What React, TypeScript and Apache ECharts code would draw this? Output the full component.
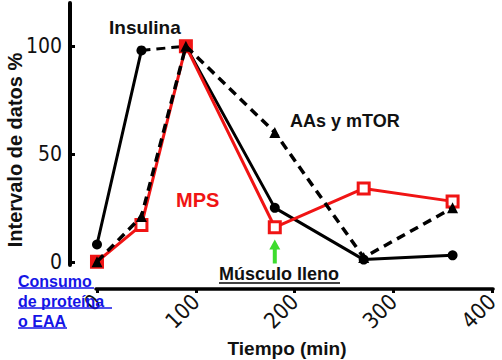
import React, { useEffect, useRef } from "react";
import * as echarts from "echarts";

const tiempo = [0, 45, 90, 180, 270, 360];
const insulina = [8, 98, 100, 25, 1, 3];
const aasMtor = [0, 21, 100, 60, 2, 25];
const mps = [0, 17, 100, 16, 34, 28];
const xTicks = [0, 100, 200, 300, 400];
const yTicks = [0, 50, 100];
const flechaTiempo = 180;
const flechaValor = 4.8;

const RED = "#f01414";
const BLUE = "#1414e6";
const BOLD = '"Liberation Sans", Arial, sans-serif';
const NARROW = '"Liberation Sans Narrow", "Arial Narrow", "DejaVu Sans Condensed", sans-serif';

function txt(text: string, x: number, y: number, size: number, fill: string, extra: any = {}) {
  return {
    type: "text",
    x,
    y,
    z: 100,
    ...extra,
    style: {
      text,
      fill,
      fontSize: size,
      fontWeight: "bold",
      fontFamily: BOLD,
      align: extra.align || "left",
      verticalAlign: "middle",
    },
  };
}

function uline(x1: number, x2: number, y: number, stroke: string, w = 2) {
  return {
    type: "line",
    z: 100,
    shape: { x1, y1: y, x2, y2: y },
    style: { stroke, lineWidth: w },
  };
}

export default function App() {
  const ref = useRef<HTMLDivElement>(null);
  useEffect(() => {
    if (!ref.current) return;
    const chart = echarts.init(ref.current, null, { renderer: "svg" });

    const insSolid: any[] = [];
    tiempo.forEach((t, i) => {
      insSolid.push([t, insulina[i]]);
      if (i === 1) insSolid.push([t, "-"]);
    });
    const insDash = [
      [tiempo[1], insulina[1]],
      [tiempo[2], insulina[2]],
    ];

    const option: any = {
      animation: false,
      backgroundColor: "#ffffff",
      grid: { left: 96, right: 4, top: 3, bottom: 95 },
      xAxis: {
        type: "value",
        min: -1,
        max: 401,
        offset: 24,
        splitLine: { show: false },
        axisLine: { show: true, onZero: false, lineStyle: { color: "#000", width: 3.5 } },
        axisTick: {
          show: true,
          inside: false,
          length: 4,
          lineStyle: { color: "#000", width: 3 },
          customValues: xTicks,
        },
        axisLabel: {
          rotate: 45,
          margin: 9,
          color: "#111",
          fontSize: 22,
          fontFamily: NARROW,
          customValues: xTicks,
        },
      },
      yAxis: {
        type: "value",
        min: -1.5,
        max: 120,
        offset: 26,
        splitLine: { show: false },
        axisLine: { show: true, onZero: false, lineStyle: { color: "#000", width: 4 } },
        axisTick: {
          show: true,
          inside: true,
          length: 5,
          lineStyle: { color: "#000", width: 3 },
          customValues: yTicks,
        },
        axisLabel: {
          margin: 8,
          color: "#111",
          fontSize: 21,
          fontFamily: NARROW,
          customValues: yTicks,
        },
      },
      series: [
        {
          name: "Insulina",
          type: "line",
          data: insSolid,
          connectNulls: false,
          symbol: "circle",
          symbolSize: 10,
          itemStyle: { color: "#000" },
          lineStyle: { color: "#000", width: 3 },
          z: 2,
        },
        {
          name: "Insulina (tramo)",
          type: "line",
          data: insDash,
          symbol: "none",
          lineStyle: { color: "#000", width: 3, type: [9, 6] },
          z: 2,
        },
        {
          name: "MPS",
          type: "line",
          data: tiempo.map((t, i) => ({
            value: [t, mps[i]],
            itemStyle:
              i === 0 || i === 2
                ? { color: RED, borderColor: RED, borderWidth: 3 }
                : { color: "#fff", borderColor: RED, borderWidth: 3 },
          })),
          symbol: "rect",
          symbolSize: 11,
          lineStyle: { color: RED, width: 3 },
          z: 3,
          markPoint: {
            symbol: "path://M5.5,0 L11,10 L7.5,10 L7.5,24 L3.5,24 L3.5,10 L0,10 Z",
            symbolSize: [11, 24],
            silent: true,
            label: { show: false },
            itemStyle: { color: "#3ddc2e" },
            data: [{ coord: [flechaTiempo, flechaValor] }],
          },
        },
        {
          name: "AAs y mTOR",
          type: "line",
          data: tiempo.map((t, i) => [t, aasMtor[i]]),
          symbol: "triangle",
          symbolSize: 11,
          itemStyle: { color: "#000" },
          lineStyle: { color: "#000", width: 3.5, type: [9, 6] },
          z: 4,
        },
      ],
      graphic: [
        txt("Insulina", 109, 27, 19, "#111"),
        txt("AAs y mTOR", 290, 121, 18, "#111"),
        txt("MPS", 176, 200, 20, RED),
        txt("Músculo lleno", 219, 274, 18, "#111"),
        uline(219, 340, 283, "#444", 2),
        txt("Consumo", 18, 281.5, 16, BLUE),
        uline(18, 94, 288, BLUE, 1.5),
        txt("de proteína", 18, 301, 16, BLUE),
        uline(18, 112, 308, BLUE, 1.5),
        txt("o EAA", 18, 321, 16, BLUE),
        uline(18, 67, 328, BLUE, 1.5),
        txt("Intervalo de datos %", 15, 150, 20, "#111", { rotation: Math.PI / 2, align: "center" }),
        txt("Tiempo (min)", 287, 348, 19, "#111", { align: "center" }),
      ],
    };
    chart.setOption(option);
    return () => chart.dispose();
  }, []);
  return (
    <div
      ref={ref}
      style={{ position: "absolute", left: 0, top: 0, width: 502, height: 360 }}
    />
  );
}
